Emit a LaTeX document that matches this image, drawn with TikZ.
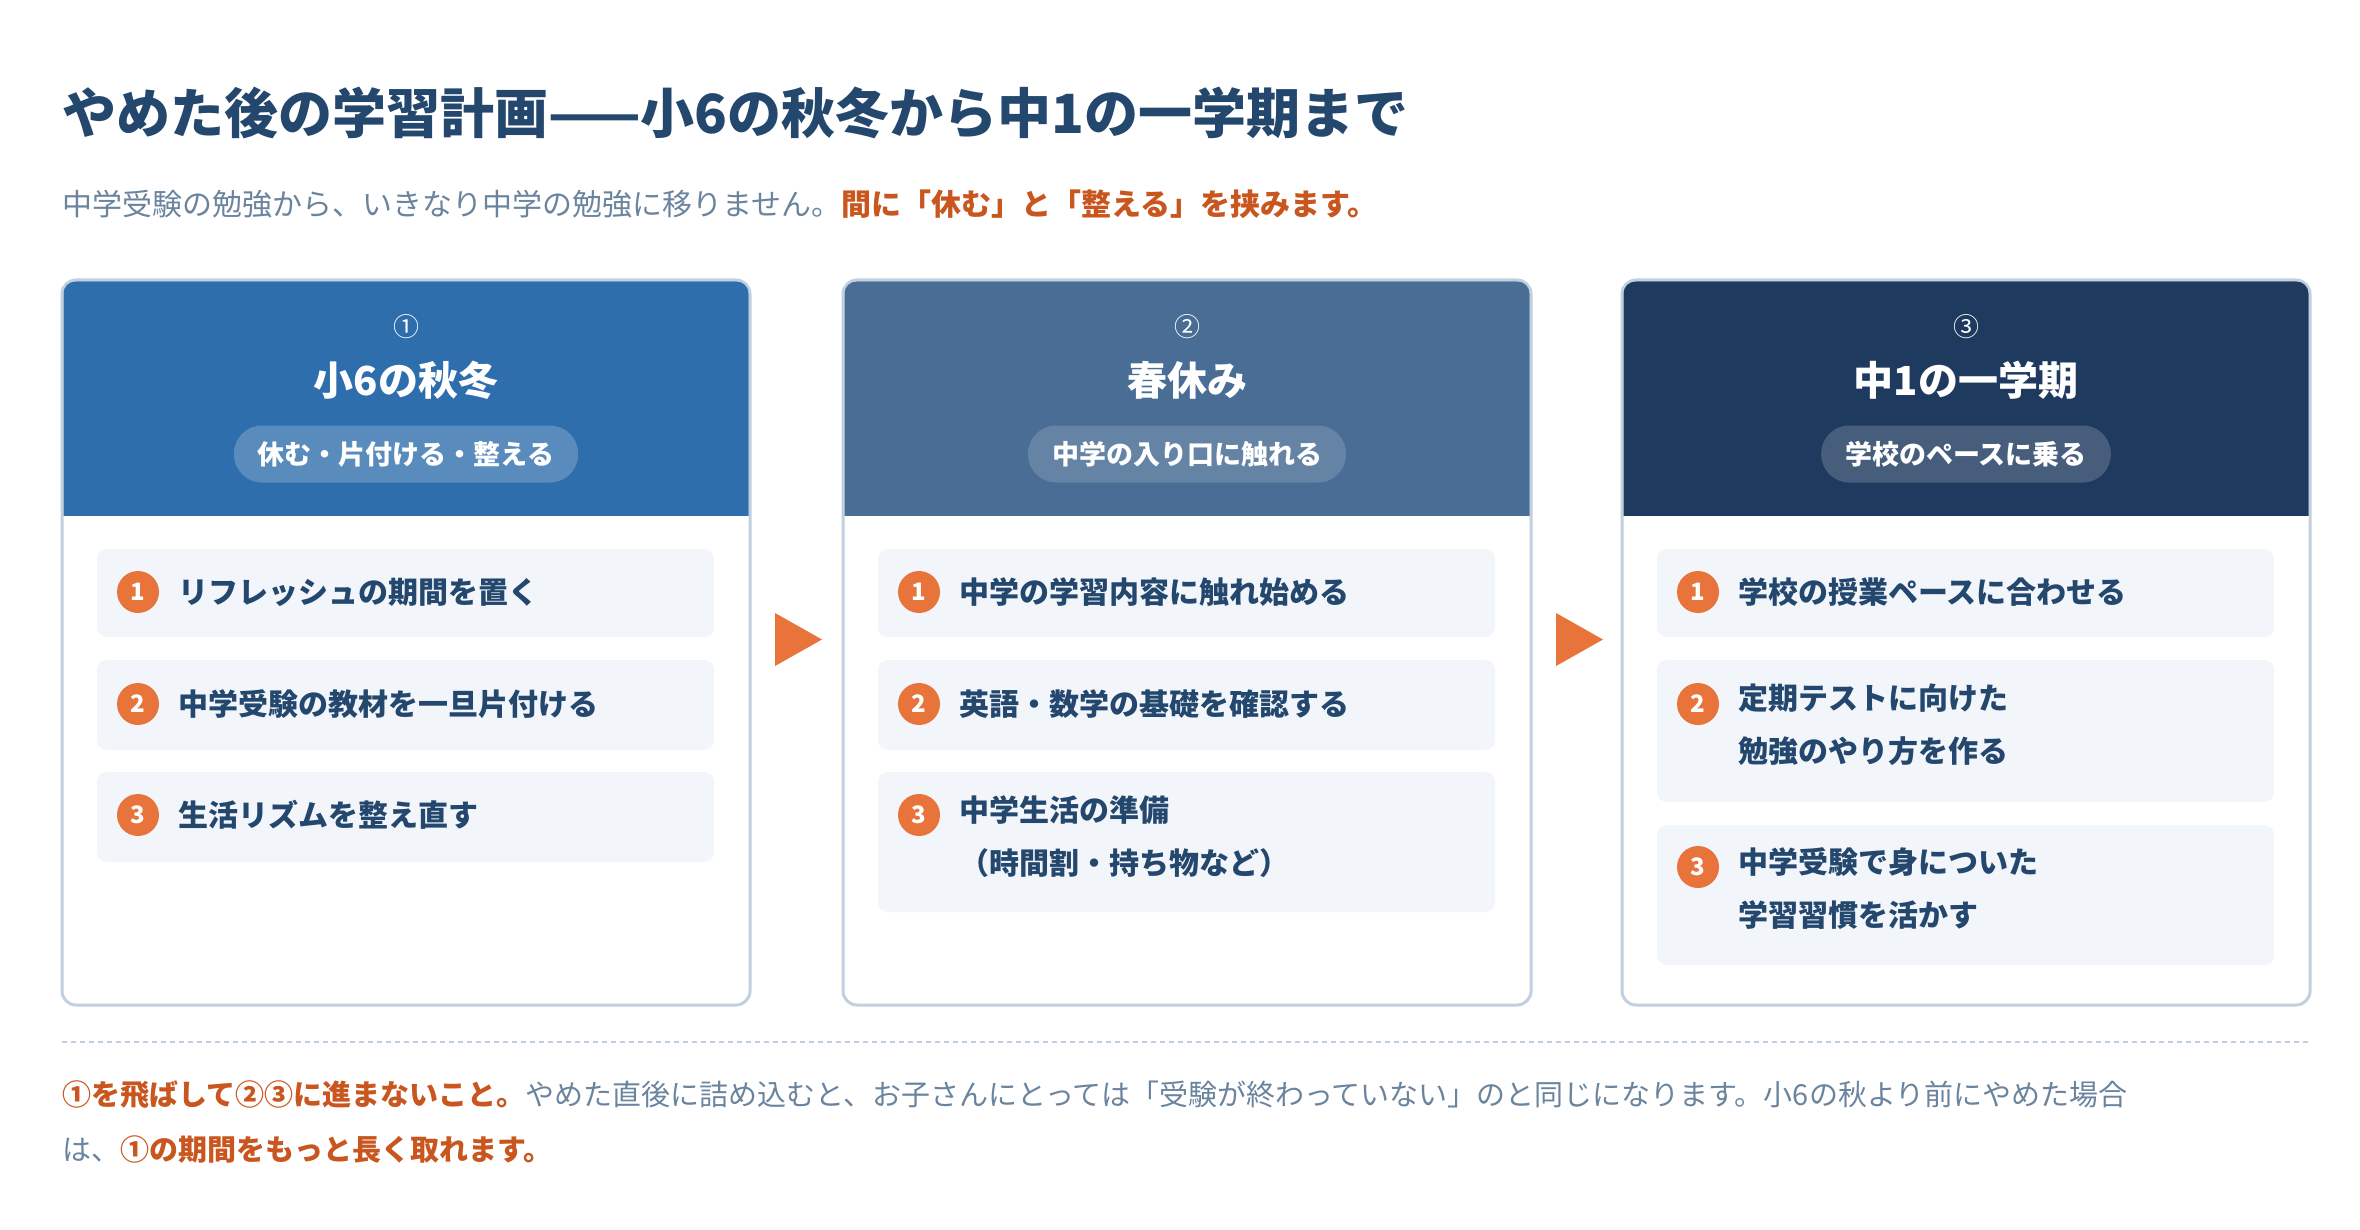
\documentclass[tikz,border=0pt]{standalone}
\usepackage{fontspec}
\setmainfont{Noto Sans CJK JP}
\definecolor{hA}{HTML}{2F6EAD}
\definecolor{hB}{HTML}{4A6D95}
\definecolor{hC}{HTML}{1F3A5F}
\definecolor{bord}{HTML}{C0D0E0}
\definecolor{itembg}{HTML}{F2F6FB}
\definecolor{org}{HTML}{E8743B}
\definecolor{orgt}{HTML}{C8561E}
\definecolor{dark}{HTML}{24476E}
\definecolor{gray}{HTML}{6B849E}
\tikzset{
 card/.style={draw=bord,line width=3pt,rounded corners=14pt,fill=white},
 item/.style={fill=itembg,rounded corners=10pt},
 num/.style={circle,fill=org,text=white,minimum size=42pt,inner sep=0pt,font=\fontsize{24}{24}\selectfont\bfseries},
 itxt/.style={anchor=west,text=dark,font=\fontsize{30}{53}\selectfont\bfseries,align=left,inner sep=0pt},
 circ/.style={text=white,font=\fontsize{26}{26}\selectfont},
 htitle/.style={text=white,font=\fontsize{40}{40}\selectfont\bfseries},
 pill/.style={rounded corners=28pt,minimum height=57pt,text=white,font=\fontsize{27}{27}\selectfont\bfseries,inner xsep=24pt},
 tri/.style={fill=org,draw=none},
}
\begin{document}
\begin{tikzpicture}[x=1pt,y=-1pt]
\useasboundingbox (0,0) rectangle (2360,1230);
\node[anchor=west,inner sep=0pt,text=dark,font=\fontsize{54}{54}\selectfont\bfseries] (title) at (62,113) {やめた後の学習計画——小6の秋冬から中1の一学期まで};
\node[anchor=west,inner sep=0pt,font=\fontsize{30}{30}\selectfont] (sub) at (62,204) {\textcolor{gray}{中学受験の勉強から、いきなり中学の勉強に移りません。}\textcolor{orgt}{\bfseries 間に「休む」と「整える」を挟みます。}};
% cards
\foreach \x/\c/\n in {62/hA/A,843/hB/B,1622/hC/C}{
 \draw[card] (\x,280) rectangle ++(688,725);
 \begin{scope}
 \clip[rounded corners=12pt] (\x+1.5,281.5) rectangle ++(685,722);
 \fill[\c] (\x,280) rectangle ++(688,236);
 \end{scope}
}
\node[circ] (c1) at (406,327) {①};
\node[htitle] (t1) at (406,380) {小6の秋冬};
\node[pill,fill=white!20!hA] (p1) at (406,454) {休む・片付ける・整える};
\node[circ] (c2) at (1187,327) {②};
\node[htitle] (t2) at (1187,380) {春休み};
\node[pill,fill=white!15!hB] (p2) at (1187,454) {中学の入り口に触れる};
\node[circ] (c3) at (1966,327) {③};
\node[htitle] (t3) at (1966,380) {中1の一学期};
\node[pill,fill=white!18!hC] (p3) at (1966,454) {学校のペースに乗る};
% card 1 items
\fill[item] (97,549) rectangle (714,637);
\node[num] (a1n) at (138,592) {1}; \node[itxt] (a1) at (178,592) {リフレッシュの期間を置く};
\fill[item] (97,660) rectangle (714,750);
\node[num] (a2n) at (138,704) {2}; \node[itxt] (a2) at (178,704) {中学受験の教材を一旦片付ける};
\fill[item] (97,772) rectangle (714,862);
\node[num] (a3n) at (138,815) {3}; \node[itxt] (a3) at (178,815) {生活リズムを整え直す};
% card 2 items
\fill[item] (878,549) rectangle (1495,637);
\node[num] (b1n) at (919,592) {1}; \node[itxt] (b1) at (959,592) {中学の学習内容に触れ始める};
\fill[item] (878,660) rectangle (1495,750);
\node[num] (b2n) at (919,704) {2}; \node[itxt] (b2) at (959,704) {英語・数学の基礎を確認する};
\fill[item] (878,772) rectangle (1495,912);
\node[num] (b3n) at (919,815) {3}; \node[itxt,anchor=north west] (b3) at (959,795) {中学生活の準備\\（時間割・持ち物など）};
% card 3 items
\fill[item] (1657,549) rectangle (2274,637);
\node[num] (c1n) at (1698,592) {1}; \node[itxt] (cc1) at (1738,592) {学校の授業ペースに合わせる};
\fill[item] (1657,660) rectangle (2274,802);
\node[num] (c2n) at (1698,704) {2}; \node[itxt,anchor=north west] (cc2) at (1738,684) {定期テストに向けた\\勉強のやり方を作る};
\fill[item] (1657,825) rectangle (2274,965);
\node[num] (c3n) at (1698,867) {3}; \node[itxt,anchor=north west] (cc3) at (1738,847) {中学受験で身についた\\学習習慣を活かす};
% arrows
\fill[tri] (775,613) -- (822,639.5) -- (775,666) -- cycle;
\fill[tri] (1556,613) -- (1603,639.5) -- (1556,666) -- cycle;
% footer
\draw[bord,line width=2pt,dash pattern=on 5pt off 4pt] (62,1042) -- (2310,1042);
\node[anchor=west,inner sep=0pt,font=\fontsize{29}{29}\selectfont] (f1) at (62,1095) {\textcolor{orgt}{\bfseries ①を飛ばして②③に進まないこと。}\textcolor{gray}{やめた直後に詰め込むと、お子さんにとっては「受験が終わっていない」のと同じになります。小6の秋より前にやめた場合}};
\node[anchor=west,inner sep=0pt,font=\fontsize{29}{29}\selectfont] (f2) at (62,1150) {\textcolor{gray}{は、}\textcolor{orgt}{\bfseries ①の期間をもっと長く取れます。}};
\end{tikzpicture}
\end{document}
